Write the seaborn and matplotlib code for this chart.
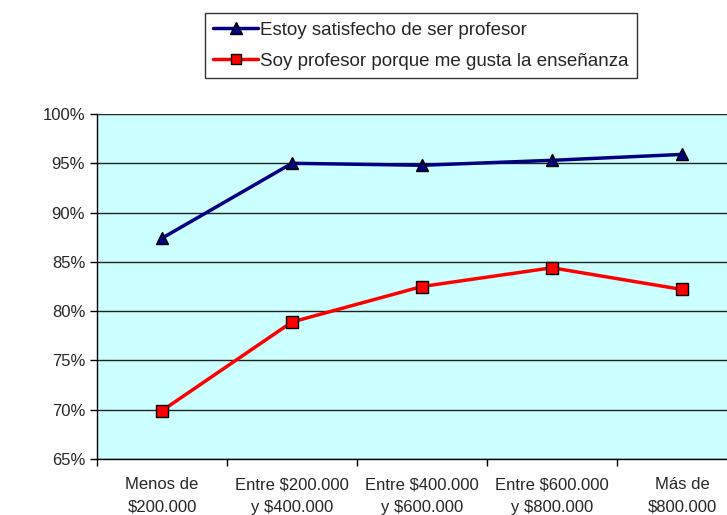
import pandas as pd
import matplotlib
import matplotlib.pyplot as plt
import seaborn as sns
from matplotlib.ticker import FixedLocator, PercentFormatter

matplotlib.use('Agg')

# Data (percent)
categorias = ['Menos de\n$200.000', 'Entre $200.000\ny $400.000', 'Entre $400.000\ny $600.000',
              'Entre $600.000\ny $800.000', 'Más de\n$800.000']
satisfecho = [87.4, 95.0, 94.8, 95.3, 95.9]
ensenanza = [69.9, 78.9, 82.5, 84.4, 82.2]
serie_1 = 'Estoy satisfecho de ser profesor'
serie_2 = 'Soy profesor porque me gusta la enseñanza'

df = pd.DataFrame({
    'pos': list(range(len(categorias))) * 2,
    'valor': satisfecho + ensenanza,
    'serie': [serie_1] * len(categorias) + [serie_2] * len(categorias),
})

sns.set_style('white')
plt.rcParams['font.family'] = ['Liberation Sans', 'DejaVu Sans']

fig = plt.figure(figsize=(7.27, 5.15), dpi=100)
# plot area runs past the right edge of the picture, as in the original
ax = fig.add_axes([97 / 727, 56 / 515, 650 / 727, 345 / 515])
ax.set_facecolor('#CCFFFF')

sns.lineplot(data=df, x='pos', y='valor', hue='serie', style='serie',
             palette={serie_1: '#000080', serie_2: '#FF0000'},
             markers={serie_1: '^', serie_2: 's'}, dashes=False,
             linewidth=2.5, markersize=8, markeredgecolor='black',
             markeredgewidth=1.0, ax=ax, legend=False)

# line handles for the legend
h1, = ax.plot([], [], color='#000080', lw=2.5, marker='^', ms=8, mec='black', mew=1.0)
h2, = ax.plot([], [], color='#FF0000', lw=2.5, marker='s', ms=6.5, mec='black', mew=1.0)

ax.set_xlim(-0.5, 4.5)
ax.set_ylim(65, 100)
ax.yaxis.set_major_locator(FixedLocator(range(65, 101, 5)))
ax.yaxis.set_major_formatter(PercentFormatter(decimals=0))
ax.grid(axis='y', color='#222222', linewidth=1.0)
ax.grid(axis='x', visible=False)
ax.set_axisbelow(True)

ax.xaxis.set_major_locator(FixedLocator([i - 0.5 for i in range(6)]))
ax.xaxis.set_major_formatter(plt.NullFormatter())
ax.xaxis.set_minor_locator(FixedLocator(range(len(categorias))))
ax.set_xticklabels(categorias, minor=True)
ax.tick_params(axis='x', which='major', length=5, width=1, color='black', direction='out', bottom=True)
ax.tick_params(axis='x', which='minor', length=0, pad=13, labelsize=12, bottom=True)
ax.tick_params(axis='y', length=5, width=1, color='black', direction='out', left=True, labelsize=12)
for lab in ax.get_xticklabels(minor=True):
    lab.set_linespacing(1.65)

for s in ['top', 'right']:
    ax.spines[s].set_visible(False)
for s in ['left', 'bottom']:
    ax.spines[s].set_color('black')
    ax.spines[s].set_linewidth(1.0)

ax.set_xlabel('')
ax.set_ylabel('')

leg = fig.legend([h1, h2], [serie_1, serie_2], loc='upper left',
                 bbox_to_anchor=(205 / 727, 1 - 13 / 515), fontsize=13.5,
                 frameon=True, fancybox=False, handlelength=2.4,
                 handletextpad=0.1, borderpad=0.45, labelspacing=0.75,
                 borderaxespad=0)
leg.get_frame().set_edgecolor('black')
leg.get_frame().set_linewidth(1.0)

fig.savefig('out.png', dpi=100, facecolor='white')
